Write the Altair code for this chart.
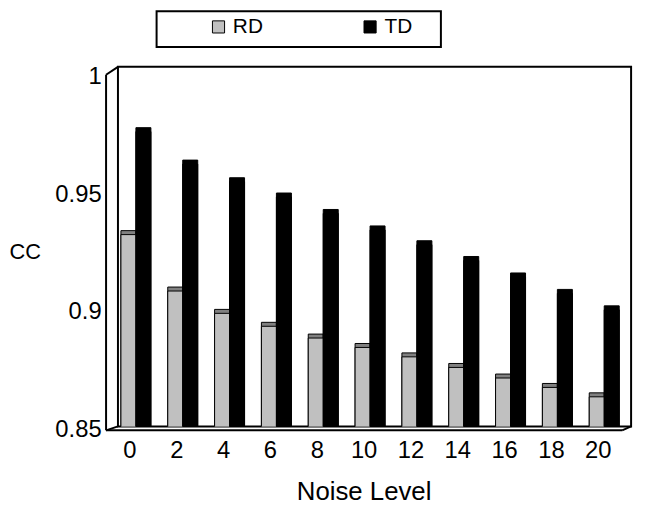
import altair as alt
import pandas as pd

noise_levels = [0, 2, 4, 6, 8, 10, 12, 14, 16, 18, 20]
rd_values = [0.932, 0.908, 0.8985, 0.893, 0.888, 0.884, 0.880, 0.8755, 0.871, 0.867, 0.863]
td_values = [0.9758, 0.962, 0.9545, 0.948, 0.941, 0.934, 0.9277, 0.921, 0.914, 0.907, 0.900]
series = ["RD", "TD"]
y_ticks = [0.85, 0.9, 0.95, 1.0]

rows = []
for n, r, t in zip(noise_levels, rd_values, td_values):
    rows.append({"Noise Level": n, "Series": "RD", "CC": r})
    rows.append({"Noise Level": n, "Series": "TD", "CC": t})
df = pd.DataFrame(rows)

FONT = "Liberation Sans"
W, H = 518, 363

x_enc = alt.X("Noise Level:O", sort=noise_levels,
              scale=alt.Scale(range=[3, 506], paddingInner=0.36, paddingOuter=0),
              axis=alt.Axis(title="Noise Level", domain=False, ticks=False, labelAngle=0,
                            labelFontSize=24, labelFont=FONT, labelColor="black",
                            labelPadding=12, labelOffset=-6,
                            titleFontSize=26, titleFont=FONT, titleFontWeight="normal",
                            titleColor="black", titleX=248, titleY=66,
                            titleBaseline="middle", titleAlign="center"))
y_enc = alt.Y("CC:Q",
              scale=alt.Scale(domain=[0.85, 1.0], range=[364, 8], zero=False, nice=False),
              axis=alt.Axis(title="CC", values=y_ticks, format="~g", grid=False,
                            domain=False, ticks=False, offset=12,
                            labelFontSize=24, labelFont=FONT, labelColor="black",
                            labelPadding=5, labelOffset=2,
                            titleFontSize=22, titleFont=FONT, titleFontWeight="normal",
                            titleColor="black", titleAngle=0, titleX=-82, titleY=187,
                            titleBaseline="middle", titleAlign="center"))
xoff = alt.XOffset("Series:N", sort=series, scale=alt.Scale(paddingInner=0, paddingOuter=0))

shade = alt.Chart(df).mark_bar(
    xOffset=3, x2Offset=3, yOffset=-4, y2Offset=-4, stroke="black", strokeWidth=1, clip=True
).encode(
    x=x_enc, y=y_enc, xOffset=xoff,
    color=alt.Color("Series:N", sort=series,
                    scale=alt.Scale(domain=series, range=["#808080", "#000000"]),
                    legend=None),
)

front = alt.Chart(df).mark_bar(stroke="black", strokeWidth=1, clip=True).encode(
    x=x_enc, y=y_enc, xOffset=xoff,
    color=alt.Color("Series:N", sort=series,
                    scale=alt.Scale(domain=series, range=["#c0c0c0", "#000000"]),
                    legend=alt.Legend(title=None, orient="none", legendX=91, legendY=-51,
                                      direction="horizontal", symbolType="square",
                                      symbolSize=150, symbolStrokeColor="black",
                                      symbolStrokeWidth=1, labelFontSize=21,
                                      labelFont=FONT, labelColor="black", labelOffset=4,
                                      columnPadding=97, padding=0)),
)

one = alt.Data(values=[{"a": 1}])

legend_box = alt.Chart(one).mark_rect(fill="white", stroke="black", strokeWidth=2).encode(
    x=alt.value(39), x2=alt.value(326), y=alt.value(-56), y2=alt.value(-20))

def seg(x1, y1, x2, y2):
    return alt.Chart(one).mark_rule(color="black", strokeWidth=2).encode(
        x=alt.value(x1), y=alt.value(y1), x2=alt.value(x2), y2=alt.value(y2))

frame = [
    seg(-12, 8, -12, 367),   # front left axis
    seg(-12, 367, 509, 367), # front floor
    seg(-12, 8, 0, 0),
    seg(-12, 367, 0, 363),
    seg(509, 367, 518, 363),
]

chart = alt.layer(legend_box, *frame, shade, front).resolve_scale(color="independent").properties(
    width=W, height=H,
    autosize=alt.AutoSizeParams(type="none"),
    padding={"left": 111, "top": 57, "right": 10, "bottom": 78},
).configure(background="white").configure_view(stroke="black", strokeWidth=2)

chart.save("out.html", embed_options={"renderer": "svg", "actions": False})
